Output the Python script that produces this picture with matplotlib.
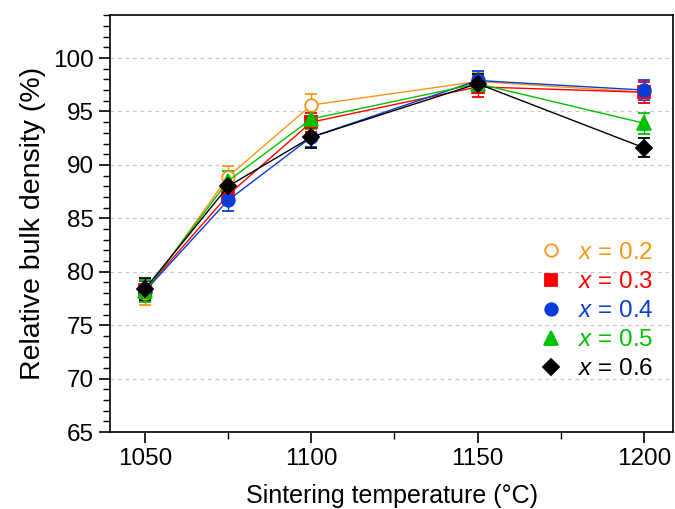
import numpy as np
import matplotlib.pyplot as plt
from matplotlib.lines import Line2D
from matplotlib.ticker import MultipleLocator

plt.rcParams['font.family'] = ['Liberation Sans', 'DejaVu Sans']
plt.rcParams['mathtext.fontset'] = 'custom'
plt.rcParams['mathtext.it'] = 'Liberation Sans:italic'
plt.rcParams['mathtext.rm'] = 'Liberation Sans'

# datos
temperatura = [1050, 1075, 1100, 1150, 1200]
etiquetas = ['0.2', '0.3', '0.4', '0.5', '0.6']
d_02 = [78.0, 88.9, 95.6, 97.8, 96.8]
d_03 = [78.3, 87.2, 94.0, 97.3, 96.8]
d_04 = [78.2, 86.7, 92.6, 97.9, 97.0]
d_05 = [78.2, 88.5, 94.3, 97.6, 93.9]
d_06 = [78.4, 88.0, 92.6, 97.6, 91.6]
e_02 = [1.1, 1.0, 1.0, 0.8, 1.0]
e_03 = [1.0, 0.9, 0.9, 0.9, 1.0]
e_04 = [0.9, 1.0, 0.9, 0.9, 0.9]
e_05 = [1.0, 0.9, 0.9, 0.8, 1.0]
e_06 = [1.0, 1.0, 1.0, 0.9, 0.9]

series = [
    (d_02, e_02, '#FF9414', 'o', 'white', 9),
    (d_03, e_03, '#FF0000', 's', '#FF0000', 8),
    (d_04, e_04, '#0A3CD8', 'o', '#0A3CD8', 9),
    (d_05, e_05, '#00C000', '^', '#00C000', 10),
    (d_06, e_06, '#000000', 'D', '#000000', 8),
]

fig = plt.figure(figsize=(6.75, 5.09), dpi=100)
ax = fig.add_axes([0.163, 0.151, 0.834, 0.819])

for d, e, c, m, fc, ms in series:
    ax.errorbar(temperatura, d, yerr=e, color=c, marker=m, mfc=fc, mec=c,
                ms=ms, mew=1.3, lw=1.0, elinewidth=1.0, capsize=4, capthick=1.0)

ax.set_xlim(1039.5, 1208.7)
ax.set_ylim(65, 104)
ax.xaxis.set_major_locator(MultipleLocator(50))
ax.xaxis.set_minor_locator(MultipleLocator(25))
ax.yaxis.set_minor_locator(MultipleLocator(1))
ax.set_yticks(np.arange(65, 101, 5))
ax.tick_params(axis='both', which='major', direction='out', length=8, width=1.2, labelsize=17.5)
ax.tick_params(axis='both', which='minor', direction='out', length=5, width=1.0)
for g in np.arange(70, 101, 5):
    ax.axhline(g, color='#c8c8c8', lw=0.9, ls=(0, (3, 3)), zorder=0)
for s in ax.spines.values():
    s.set_linewidth(1.2)

ax.set_xlabel('Sintering temperature (°C)', fontsize=18, labelpad=10)
ax.set_ylabel('Relative bulk density (%)', fontsize=20.5, labelpad=5)

handles = [Line2D([], [], ls='none', marker=m, mfc=fc, mec=c, ms=ms, mew=1.3)
           for d, e, c, m, fc, ms in series]
leg = ax.legend(handles, ['$x$ = ' + t for t in etiquetas], loc='lower right',
                bbox_to_anchor=(1.005, 0.072), frameon=False, fontsize=17.5,
                handlelength=1.0, handletextpad=0.6, labelspacing=0.29)
for txt, s in zip(leg.get_texts(), series):
    txt.set_color(s[2])

fig.savefig('out.png', dpi=100)
